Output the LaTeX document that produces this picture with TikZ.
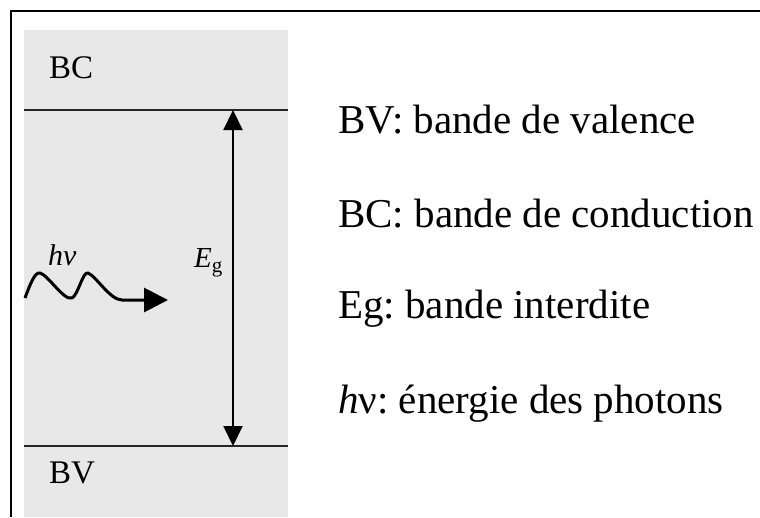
\documentclass[tikz,border=0pt]{standalone}
\usepackage{fontspec}
\setmainfont{Liberation Serif}
\usetikzlibrary{arrows.meta}
\definecolor{bandgray}{HTML}{E8E8E8}
\frenchspacing
\tikzset{
  bandline/.style={line width=2pt, black!85},
  bandlabel/.style={anchor=base west, inner sep=0pt, font=\fontsize{33}{36}\selectfont},
  legend/.style={anchor=base west, inner sep=0pt, font=\fontsize{41}{46}\selectfont},
  gaparrow/.style={line width=2pt, {Triangle[length=20pt,width=19pt]}-{Triangle[length=20pt,width=19pt]}},
  photon/.style={line width=3pt, line join=round, -{Triangle[length=24pt,width=24pt]}}
}
\begin{document}
\begin{tikzpicture}[x=1pt,y=-1pt]
  \useasboundingbox (0,0) rectangle (760,517);
  % outer frame (open towards the lower right)
  \draw[line width=2.6pt] (11,517) -- (11,11) -- (760,11);
  % band diagram background
  \fill[bandgray] (24,30) rectangle (288,517);
  % band edges
  \coordinate (bcL) at (24,110);
  \coordinate (bcR) at (288,110);
  \coordinate (bvL) at (24,446);
  \coordinate (bvR) at (288,446);
  \draw[bandline] (bcL) -- (bcR);
  \draw[bandline] (bvL) -- (bvR);
  % band labels
  \node[bandlabel] (bc) at (49,78) {BC};
  \node[bandlabel] (bv) at (49,483) {BV};
  % gap arrow
  \coordinate (gtop) at (233,110);
  \coordinate (gbot) at (233,446);
  \draw[gaparrow] (gtop) -- (gbot);
  \node[anchor=base west, inner sep=0pt, font=\fontsize{29}{32}\selectfont] (eg) at (194,267)
    {\textit{E}\raisebox{-5pt}{\fontsize{21}{24}\selectfont g}};
  % incoming photon
  \node[anchor=base west, inner sep=0pt, font=\fontsize{30}{34}\selectfont\itshape] (hnu) at (48,265) {hν};
  \coordinate (ph0) at (25,298);
  \coordinate (ph1) at (168,300);
  \draw[photon] (ph0) .. controls (31,282) and (35,272) .. (40,273)
     .. controls (48,275) and (64,301) .. (72,298)
     .. controls (78,295) and (83,271) .. (88,273)
     .. controls (96,276) and (110,300) .. (122,300) -- (ph1);
  % legend
  \node[legend] (l1) at (338,133) {BV: bande de valence};
  \node[legend] (l2) at (338,227) {BC: bande de conduction};
  \node[legend] (l3) at (338,318) {Eg: bande interdite};
  \node[legend] (l4) at (338,413) {\textit{h}ν: énergie des photons};
\end{tikzpicture}
\end{document}
